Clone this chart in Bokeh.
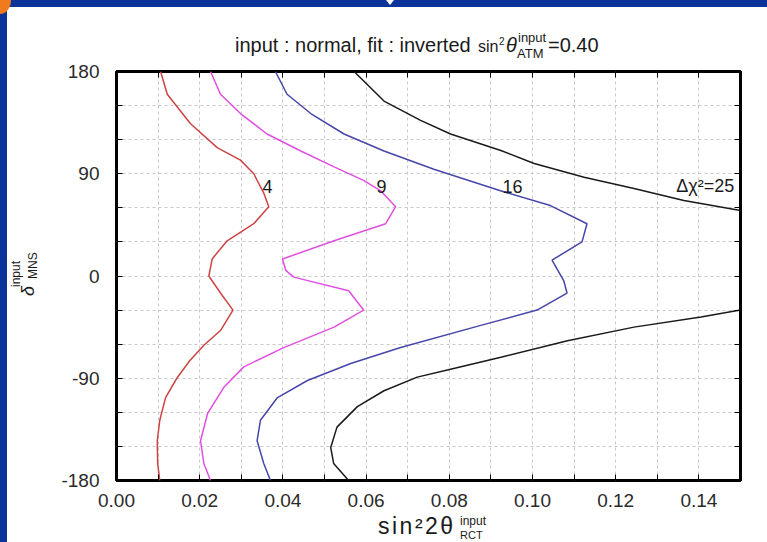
from bokeh.plotting import figure
from bokeh.models import Range1d, LinearAxis, FixedTicker, Label, Div
from bokeh.layouts import column, row
from bokeh.embed import file_html
from bokeh.resources import INLINE

# ---------------- data ----------------
x_major_ticks = [0.00, 0.02, 0.04, 0.06, 0.08, 0.10, 0.12, 0.14]
x_tick_labels = ["0.00", "0.02", "0.04", "0.06", "0.08", "0.10", "0.12", "0.14"]
x_minor_ticks = [0.01, 0.03, 0.05, 0.07, 0.09, 0.11, 0.13]
y_major_ticks = [-180, -90, 0, 90, 180]
y_tick_labels = ["-180", "-90", "0", "90", "180"]
y_minor_ticks = [-150, -120, -60, -30, 30, 60, 120, 150]

# contour  Δχ² = 4  (red)
c4_s2 = [0.0106, 0.0122, 0.0178, 0.0242, 0.0298, 0.0330, 0.0354, 0.0366, 0.0330,
         0.0266, 0.0230, 0.0222, 0.0250, 0.0280, 0.0250, 0.0210, 0.0175, 0.0145,
         0.0118, 0.0104, 0.0098, 0.0099, 0.0104]
c4_delta = [180, 160, 134, 113, 102, 90, 73, 61, 46,
            31, 15, 0, -15, -30, -48, -61, -75, -90,
            -107, -127, -145, -165, -180]

# contour  Δχ² = 9  (magenta)
c9_s2 = [0.0226, 0.0250, 0.0298, 0.0362, 0.0443, 0.0523, 0.0595, 0.0635, 0.0671,
         0.0647, 0.0523, 0.0399, 0.0407, 0.0426, 0.0558, 0.0594, 0.0523, 0.0402,
         0.0306, 0.0258, 0.0219, 0.0202, 0.0210, 0.0226]
c9_delta = [180, 160, 143, 125, 110, 96, 84, 75, 61,
            46, 31, 15, 5, -1, -13, -30, -45, -63,
            -80, -98, -121, -145, -165, -180]

# contour  Δχ² = 16  (blue)
c16_s2 = [0.0382, 0.0410, 0.0467, 0.0547, 0.0643, 0.0763, 0.0923, 0.1043, 0.1131,
          0.1119, 0.1047, 0.1075, 0.1083, 0.1011, 0.0880, 0.0683, 0.0563, 0.0459,
          0.0387, 0.0346, 0.0338, 0.0354, 0.0370]
c16_delta = [180, 160, 143, 125, 110, 94, 75, 62, 46,
             30, 14, -4, -15, -30, -43, -63, -77, -92,
             -107, -127, -145, -165, -180]

# contour  Δχ² = 25  (black), two branches leaving the right edge
c25_upper_s2 = [0.0571, 0.0643, 0.0731, 0.0803, 0.0924, 0.1004, 0.1124, 0.1244, 0.1364, 0.1500]
c25_upper_delta = [180, 154, 137, 125, 110.5, 99, 87, 77, 66.4, 57.6]
c25_lower_s2 = [0.0558, 0.0522, 0.0515, 0.0530, 0.0579, 0.0643, 0.0723, 0.0803,
                0.0924, 0.1084, 0.1244, 0.1405, 0.1500]
c25_lower_delta = [-180, -165, -151, -133, -115, -101, -89, -82,
                   -71.5, -57, -45, -36, -30]

contour_labels = ["4", "9", "16", "\u0394\u03c7\u00b2=25"]
contour_label_s2 = [0.0363, 0.0637, 0.0952, 0.1485]
contour_label_delta = [79, 79, 79, 79]

# ---------------- layout / style ----------------
FONT = "Liberation Sans"
W, H = 767, 542
TITLE_H, XLAB_H, YLAB_W = 46, 26, 48
FIG_H = H - TITLE_H - XLAB_H
FIG_W = W - YLAB_W
BLUE = "#0b3399"

p = figure(frame_width=624, frame_height=409,
           min_border_left=116 - YLAB_W, min_border_right=27,
           min_border_top=71 - TITLE_H, min_border_bottom=FIG_H - (71 - TITLE_H) - 409,
           x_range=Range1d(0.0, 0.15), y_range=Range1d(-180, 180),
           output_backend="svg", toolbar_location=None)
p.background_fill_color = "white"
p.border_fill_color = None
p.outline_line_color = "black"
p.outline_line_width = 3

bottom_axis = p.below[0]
left_axis = p.left[0]

# grid
p.xgrid.ticker = FixedTicker(ticks=[t for t in x_major_ticks + x_minor_ticks if 0 < t < 0.15])
p.ygrid.ticker = FixedTicker(ticks=[t for t in y_major_ticks + y_minor_ticks if -180 < t < 180])
for g in (p.xgrid, p.ygrid):
    g.grid_line_color = "#c8c8c8"
    g.grid_line_dash = "3 3"
    g.grid_line_width = 1

# axes
bottom_axis.ticker = FixedTicker(ticks=x_major_ticks, minor_ticks=x_minor_ticks)
bottom_axis.major_label_overrides = dict(zip(x_major_ticks, x_tick_labels))
left_axis.ticker = FixedTicker(ticks=y_major_ticks, minor_ticks=y_minor_ticks)
left_axis.major_label_overrides = dict(zip(y_major_ticks, y_tick_labels))

top_axis = LinearAxis(ticker=FixedTicker(ticks=x_major_ticks, minor_ticks=x_minor_ticks),
                      major_label_overrides={t: "" for t in x_major_ticks})
right_axis = LinearAxis(ticker=FixedTicker(ticks=y_major_ticks, minor_ticks=y_minor_ticks),
                        major_label_overrides={t: "" for t in y_major_ticks})
p.add_layout(top_axis, "above")
p.add_layout(right_axis, "right")

for ax in (bottom_axis, left_axis, top_axis, right_axis):
    ax.axis_line_color = None
    ax.major_tick_in = 6
    ax.major_tick_out = 0
    ax.minor_tick_in = 6
    ax.minor_tick_out = 0
    ax.major_tick_line_color = "black"
    ax.minor_tick_line_color = "black"
    ax.major_label_text_font = FONT
    ax.major_label_text_font_size = "19px"
    ax.major_label_text_color = "#2a2a2a"
for ax in (top_axis, right_axis):
    ax.major_label_standoff = 0
bottom_axis.major_label_standoff = 13
left_axis.major_label_standoff = 17

# contours
p.line(c4_s2, c4_delta, line_color="#cc4444", line_width=1.5)
p.line(c9_s2, c9_delta, line_color="#e050e0", line_width=1.5)
p.line(c16_s2, c16_delta, line_color="#4646aa", line_width=1.5)
p.line(c25_upper_s2, c25_upper_delta, line_color="#1a1a1a", line_width=1.5)
p.line(c25_lower_s2, c25_lower_delta, line_color="#1a1a1a", line_width=1.5)

for i, (t, xs, ys) in enumerate(zip(contour_labels, contour_label_s2, contour_label_delta)):
    p.add_layout(Label(x=xs, y=ys, text=t, text_font=FONT, text_font_size="18px",
                       text_align="right" if i == 3 else "center",
                       text_baseline="middle", text_color="#1a1a1a"))


# ---------------- texts outside the frame (HTML) ----------------
def span(px, base, text, size, ox, oy, style=""):
    top = base - 0.8465 * size - oy
    return (f'<span style="position:absolute;left:{px - ox:.1f}px;top:{top:.1f}px;'
            f"font-family:'{FONT}';font-size:{size}px;line-height:{size}px;"
            f'white-space:nowrap;color:#1a1a1a;{style}">{text}</span>')


def vspan(base_x, start_y, text, size, ox, oy, style=""):
    left = base_x - 0.8465 * size - ox
    return (f'<span style="position:absolute;left:{left:.1f}px;top:{start_y - oy:.1f}px;'
            f"font-family:'{FONT}';font-size:{size}px;line-height:{size}px;"
            f'white-space:nowrap;color:#1a1a1a;transform:rotate(-90deg);'
            f'transform-origin:0 0;{style}">{text}</span>')


def box(w, h, inner):
    return f'<div style="position:relative;width:{w}px;height:{h}px;overflow:visible">{inner}</div>'


left_bar = f'<div style="position:absolute;left:0;top:0;width:7px;height:100%;background:{BLUE}"></div>'

title_html = (
    f'<div style="position:absolute;left:0;top:0;width:{W}px;height:7px;background:{BLUE}"></div>'
    + left_bar
    + '<div style="position:absolute;left:0;top:0;width:11px;height:14px;background:#f07a1e;'
      'border-bottom-right-radius:11px 14px"></div>'
    + '<div style="position:absolute;left:386px;top:0;width:0;height:0;border-left:4px solid transparent;'
      'border-right:4px solid transparent;border-top:5px solid white"></div>'
    + span(235, 52, "input : normal, fit : inverted", 20, 0, 0)
    + span(478, 52, "sin", 16, 0, 0)
    + span(499, 45, "2", 10, 0, 0)
    + span(506, 52, "\u03b8", 20, 0, 0, "font-style:italic")
    + span(518, 42, "input", 13, 0, 0)
    + span(517, 58, "ATM", 13, 0, 0)
    + span(548, 52, "=0.40", 20, 0, 0)
)
title_div = Div(text=box(W, TITLE_H, title_html), width=W, height=TITLE_H, margin=0)

oy = TITLE_H
ylab_html = (
    left_bar
    + vspan(34, 296, "\u03b4", 18, 0, oy, "font-style:italic")
    + vspan(20.5, 287, "input", 12, 0, oy)
    + vspan(37, 279, "MNS", 12, 0, oy)
)
ylab_div = Div(text=box(YLAB_W, FIG_H, ylab_html), width=YLAB_W, height=FIG_H, margin=0)

oy2 = TITLE_H + FIG_H
xlab_html = (
    left_bar
    + span(378, 534, "sin\u00b22\u03b8", 23, 0, oy2, "letter-spacing:2.5px")
    + span(460, 525, "input", 12, 0, oy2)
    + span(460, 539, "RCT", 11, 0, oy2)
)
xlab_div = Div(text=box(W, XLAB_H, xlab_html), width=W, height=XLAB_H, margin=0)

p.width = FIG_W
p.height = FIG_H
p.margin = 0

layout = column(title_div, row(ylab_div, p, spacing=0, margin=0), xlab_div, spacing=0, margin=0)

open("out.html", "w").write(file_html(layout, INLINE))
